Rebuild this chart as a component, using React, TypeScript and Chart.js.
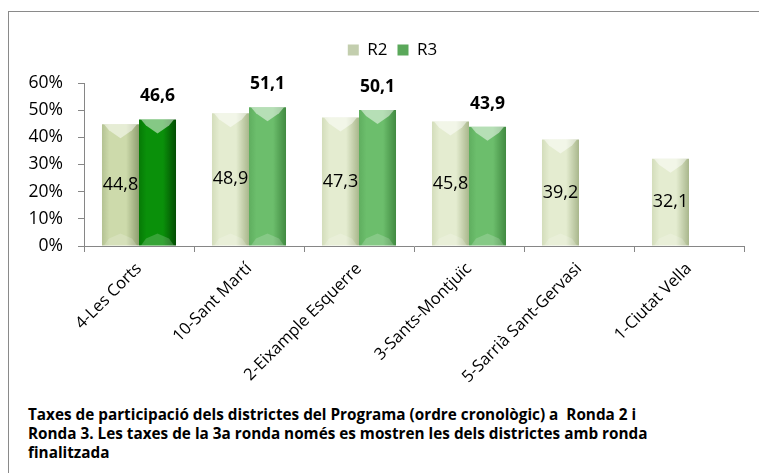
import React, { useEffect, useRef } from "react";
import { Chart, registerables } from "chart.js";

Chart.register(...registerables);

const categories = [
  "4-Les Corts",
  "10-Sant Martí",
  "2-Eixample Esquerre",
  "3-Sants-Montjuïc",
  "5-Sarrià Sant-Gervasi",
  "1-Ciutat Vella",
];
const r2Values = [44.8, 48.9, 47.3, 45.8, 39.2, 32.1];
const r3Values: (number | null)[] = [46.6, 51.1, 50.1, 43.9, null, null];
const seriesNames = ["R2", "R3"];
const yTicks = [0, 10, 20, 30, 40, 50, 60];

const FONT = '"Open Sans", "DejaVu Sans", sans-serif';

// colours: [leftEdge, mid, rightEdge]
const r2Colors = (i: number) =>
  i === 0 ? ["#b4c293", "#cddaab", "#8f9e70"] : ["#d3ddbb", "#e4ecd0", "#a9b78c"];
const r3Colors = (i: number) =>
  i === 0 ? ["#067a06", "#0a900a", "#034d03"] : ["#5fae5f", "#6cbe6c", "#418a41"];

const fmt = (v: number) => v.toFixed(1).replace(".", ",");

const legendShift = {
  id: "legendShift",
  afterLayout(chart: any) {
    const l = chart.legend;
    if (l) {
      l.left += 16;
      l.right += 16;
    }
  },
};

const bevelPlugin = {
  id: "bevel",
  beforeDatasetsDraw(chart: any) {
    const ctx = chart.ctx;
    chart.data.datasets.forEach((_ds: any, di: number) => {
      const meta = chart.getDatasetMeta(di);
      meta.data.forEach((el: any, i: number) => {
        const c = di === 0 ? r2Colors(i) : r3Colors(i);
        const p = el.getProps(["x", "width"], true);
        const g = ctx.createLinearGradient(p.x - p.width / 2, 0, p.x + p.width / 2, 0);
        g.addColorStop(0, c[0]);
        g.addColorStop(0.2, c[1]);
        g.addColorStop(0.65, c[1]);
        g.addColorStop(1, c[2]);
        el.options.backgroundColor = g;
      });
    });
  },
  afterDatasetsDraw(chart: any) {
    const ctx = chart.ctx;
    ctx.save();
    chart.data.datasets.forEach((ds: any, di: number) => {
      const meta = chart.getDatasetMeta(di);
      meta.data.forEach((el: any, i: number) => {
        const v = ds.data[i];
        if (v == null) return;
        const p = el.getProps(["x", "y", "base", "width"], true);
        const l = p.x - p.width / 2;
        const r = p.x + p.width / 2;
        // top bevel
        ctx.fillStyle = "rgba(255,255,255,0.5)";
        ctx.beginPath();
        ctx.moveTo(l + 2, p.y);
        ctx.lineTo(r - 2, p.y);
        ctx.lineTo(r - 7, p.y + 6);
        ctx.lineTo(p.x, p.y + 14);
        ctx.lineTo(l + 7, p.y + 6);
        ctx.closePath();
        ctx.fill();
        // bottom bevel
        ctx.fillStyle = "rgba(255,255,255,0.18)";
        ctx.beginPath();
        ctx.moveTo(l + 2, p.base);
        ctx.lineTo(r - 2, p.base);
        ctx.lineTo(r - 7, p.base - 7);
        ctx.lineTo(p.x, p.base - 12);
        ctx.lineTo(l + 7, p.base - 7);
        ctx.closePath();
        ctx.fill();
      });
    });
    // value labels
    chart.data.datasets.forEach((ds: any, di: number) => {
      const meta = chart.getDatasetMeta(di);
      meta.data.forEach((el: any, i: number) => {
        const v = ds.data[i];
        if (v == null) return;
        const p = el.getProps(["x", "y", "base"], true);
        ctx.fillStyle = "#000";
        ctx.textAlign = "center";
        ctx.textBaseline = "middle";
        if (di === 0) {
          ctx.font = `18px ${FONT}`;
          ctx.fillText(fmt(v), p.x, (p.y + p.base) / 2);
        } else {
          ctx.font = `bold 17.5px ${FONT}`;
          ctx.fillText(fmt(v), p.x, p.y - 23);
        }
      });
    });
    ctx.restore();
  },
};

export default function App() {
  const ref = useRef<HTMLCanvasElement>(null);
  useEffect(() => {
    if (!ref.current) return;
    const chart = new Chart(ref.current, {
      type: "bar",
      data: {
        labels: categories,
        datasets: [
          {
            label: seriesNames[0],
            data: r2Values,
            backgroundColor: (c: any) => r2Colors(c.dataIndex ?? 1)[1],
            borderWidth: 0,
            categoryPercentage: 0.673,
            barPercentage: 1,
          },
          {
            label: seriesNames[1],
            data: r3Values,
            backgroundColor: (c: any) => r3Colors(c.dataIndex ?? 1)[1],
            borderWidth: 0,
            categoryPercentage: 0.673,
            barPercentage: 1,
          },
        ],
      },
      options: {
        responsive: false,
        animation: false,
        layout: { padding: { top: 19.5, left: 0, right: 15, bottom: 0 } },
        plugins: {
          tooltip: { enabled: false },
          subtitle: {
            display: true,
            text: "",
            position: "top",
            weight: 500,
            font: { size: 1 },
            padding: { top: 0, bottom: 13.3 },
          },
          legend: {
            position: "top",
            align: "center",
            weight: 1000,
            labels: {
              font: { family: FONT, size: 17 },
              color: "#000",
              boxWidth: 11,
              boxHeight: 11,
              padding: 10,
              generateLabels: () => [
                { text: seriesNames[0], fillStyle: "#c3ceae", strokeStyle: "#c3ceae", lineWidth: 0, datasetIndex: 0, hidden: false },
                { text: seriesNames[1], fillStyle: "#5aa85a", strokeStyle: "#5aa85a", lineWidth: 0, datasetIndex: 1, hidden: false },
              ],
            },
          },
        },
        scales: {
          x: {
            grid: {
              offset: true,
              drawOnChartArea: false,
              drawTicks: true,
              tickLength: 6,
              color: "#868686",
            },
            border: { color: "#868686", width: 1 },
            ticks: {
              autoSkip: false,
              minRotation: 45,
              maxRotation: 45,
              color: "#000",
              font: { family: FONT, size: 16.5 },
              padding: 7,
            },
            afterFit: (s: any) => {
              s.height = 146;
            },
          },
          y: {
            min: 0,
            max: 60,
            afterBuildTicks: (s: any) => {
              s.ticks = yTicks.map((v) => ({ value: v }));
            },
            grid: {
              drawOnChartArea: false,
              drawTicks: true,
              tickLength: 6,
              color: "#868686",
            },
            border: { color: "#868686", width: 1 },
            ticks: {
              color: "#000",
              font: { family: FONT, size: 17.5 },
              padding: 15,
              callback: (v: any) => v + "%",
            },
            afterFit: (s: any) => {
              s.width = 75;
            },
          },
        },
      },
      plugins: [bevelPlugin, legendShift],
    });
    return () => chart.destroy();
  }, []);

  return (
    <div
      style={{
        position: "absolute",
        left: 8,
        top: 11,
        width: 751,
        height: 462,
        borderLeft: "1px solid #8a8a8a",
        borderTop: "1px solid #8a8a8a",
        boxSizing: "border-box",
        background: "#fff",
        overflow: "hidden",
      }}
    >
      <canvas
        ref={ref}
        width={750}
        height={380}
        style={{ position: "absolute", left: 0, top: 0, width: 750, height: 380 }}
      />
      <div
        style={{
          position: "absolute",
          left: 19,
          top: 393,
          width: 730,
          fontFamily: FONT,
          fontWeight: "bold",
          fontSize: 15.3,
          lineHeight: "19px",
          color: "#000",
          whiteSpace: "nowrap",
        }}
      >
        Taxes de participació dels districtes del Programa (ordre cronològic) a&nbsp; Ronda 2 i
        <br />
        Ronda 3. Les taxes de la 3a ronda només es mostren les dels districtes amb ronda
        <br />
        finalitzada
      </div>
    </div>
  );
}
